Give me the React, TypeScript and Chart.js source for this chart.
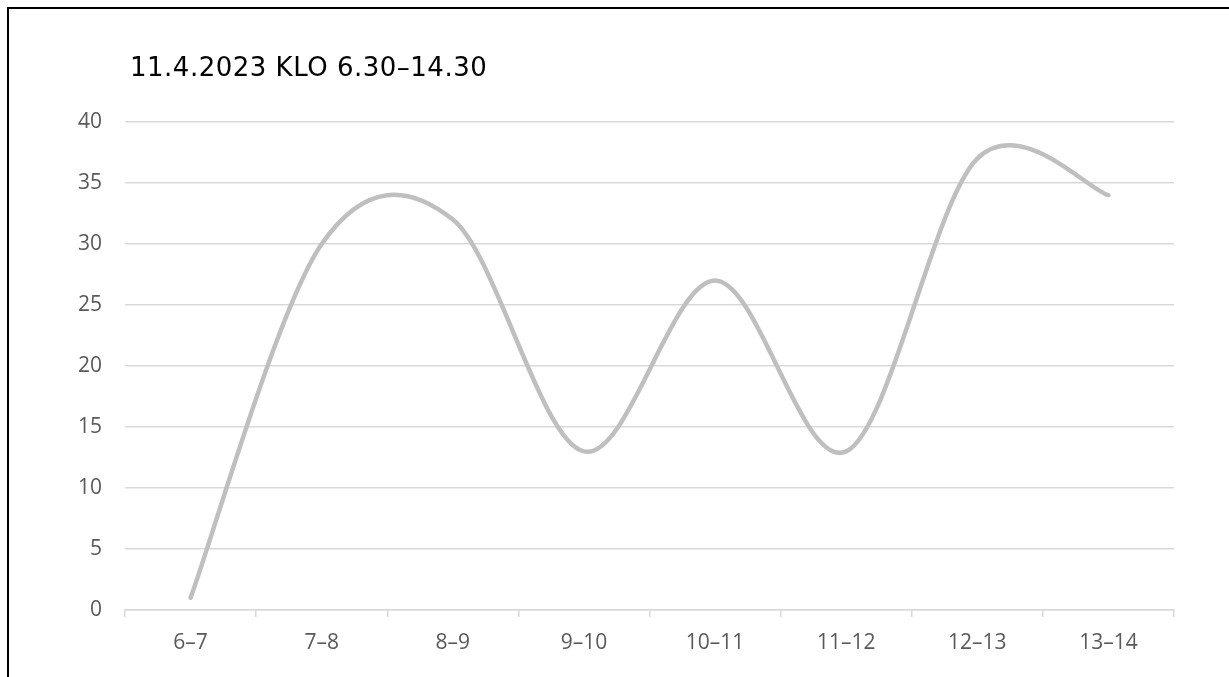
import React, { useEffect, useRef } from "react";
import { Chart, registerables } from "chart.js";

Chart.register(...registerables);

const TITLE = "11.4.2023 KLO 6.30–14.30";
const CATEGORIES = ["6–7", "7–8", "8–9", "9–10", "10–11", "11–12", "12–13", "13–14"];
const VALUES = [1, 30, 32, 13, 27, 13, 37, 34];
const Y_MIN = 0;
const Y_MAX = 40;
const Y_STEP = 5;

// Excel-like smoothing: uniform Catmull-Rom control points computed from the
// library's own point positions (already placed through the scales).
const excelSmooth = {
  id: "excelSmooth",
  beforeDatasetsDraw(chart: any) {
    chart.data.datasets.forEach((_: any, di: number) => {
      const meta = chart.getDatasetMeta(di);
      const pts = meta.data;
      const n = pts.length;
      for (let i = 0; i < n; i++) {
        const p1 = pts[i];
        const p0 = pts[Math.max(0, i - 1)];
        const p2 = pts[Math.min(n - 1, i + 1)];
        const dx = (p2.x - p0.x) / 6;
        const dy = (p2.y - p0.y) / 6;
        p1.cp1x = p1.x - dx;
        p1.cp1y = p1.y - dy;
        p1.cp2x = p1.x + dx;
        p1.cp2y = p1.y + dy;
      }
    });
  },
};

export default function App() {
  const canvasRef = useRef<HTMLCanvasElement | null>(null);

  useEffect(() => {
    const canvas = canvasRef.current;
    if (!canvas) return;
    const tickFont = { family: "'Open Sans', sans-serif", size: 21 };
    const chart = new Chart(canvas, {
      type: "line",
      data: {
        labels: CATEGORIES,
        datasets: [
          {
            data: VALUES,
            borderColor: "#BFBFBF",
            borderWidth: 4.5,
            borderCapStyle: "round",
            borderJoinStyle: "round",
            pointRadius: 0,
            pointHoverRadius: 0,
            tension: 0.4,
            fill: false,
          },
        ],
      },
      options: {
        animation: false,
        responsive: true,
        maintainAspectRatio: false,
        layout: { padding: { left: 0, top: 122, right: 55, bottom: 0 } },
        plugins: {
          legend: { display: false },
          title: { display: false },
          tooltip: { enabled: false },
        },
        scales: {
          x: {
            offset: true,
            grid: {
              offset: true,
              drawOnChartArea: false,
              drawTicks: true,
              tickLength: 7,
              color: "#D9D9D9",
              lineWidth: 1.5,
            },
            border: { display: true, color: "#D9D9D9", width: 1.5 },
            ticks: {
              color: "#595959",
              font: tickFont,
              padding: 13,
              maxRotation: 0,
            },
            afterFit: (scale: any) => {
              scale.height = 67;
            },
          },
          y: {
            min: Y_MIN,
            max: Y_MAX,
            grid: {
              color: "#D9D9D9",
              lineWidth: 1.5,
              drawTicks: false,
            },
            border: { display: false },
            ticks: {
              stepSize: Y_STEP,
              color: "#595959",
              font: tickFont,
              padding: 23,
            },
            afterFit: (scale: any) => {
              scale.width = 125;
            },
          },
        },
      },
      plugins: [excelSmooth],
    });
    return () => chart.destroy();
  }, []);

  return (
    <div style={{ position: "fixed", left: 0, top: 0, width: 1229, height: 677, overflow: "hidden", background: "#fff" }}>
      <div style={{ position: "absolute", left: 0, top: 0, width: 1229, height: 677 }}>
        <canvas ref={canvasRef} />
      </div>
      <div
        style={{
          position: "absolute",
          left: 130,
          top: 55,
          fontFamily: "'DejaVu Sans', sans-serif",
          fontSize: 26,
          letterSpacing: "0.5px",
          lineHeight: "25px",
          color: "#000",
          whiteSpace: "nowrap",
        }}
      >
        {TITLE}
      </div>
      <div
        style={{
          position: "absolute",
          left: 7,
          top: 7,
          width: 2000,
          height: 2000,
          border: "2px solid #000",
          pointerEvents: "none",
        }}
      />
    </div>
  );
}
